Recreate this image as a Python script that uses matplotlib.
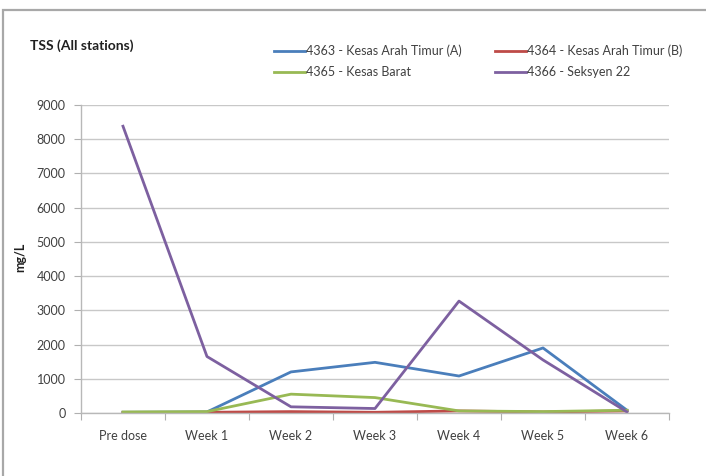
import matplotlib
matplotlib.use("Agg")
import matplotlib.pyplot as plt
from matplotlib.patches import Rectangle

plt.rcParams['font.family'] = ['Lato', 'DejaVu Sans']

semanas = ["Pre dose", "Week 1", "Week 2", "Week 3", "Week 4", "Week 5", "Week 6"]
st4363 = [20, 30, 1200, 1480, 1080, 1900, 80]
st4364 = [10, 20, 40, 20, 60, 30, 60]
st4365 = [30, 40, 550, 450, 60, 40, 80]
st4366 = [8380, 1650, 180, 130, 3270, 1550, 30]

nombres = ["4363 - Kesas Arah Timur (A)", "4364 - Kesas Arah Timur (B)",
           "4365 - Kesas Barat", "4366 - Seksyen 22"]
colores = ["#4a7ebb", "#be4b48", "#98b954", "#7d60a0"]
gris_txt = "#404040"

fig = plt.figure(figsize=(7.06, 4.76), dpi=100)
ax = fig.add_axes([0.1147, 0.1324, 0.8329, 0.647])

# marco gris del grafico
fig.patches.append(Rectangle((0.004, -0.05), 1.2, 1.029, transform=fig.transFigure,
                             fill=False, edgecolor="#a8a8a8", linewidth=1.6))

x = list(range(len(semanas)))
lineas = []
for datos, nom, col in zip([st4363, st4364, st4365, st4366], nombres, colores):
    l, = ax.plot(x, datos, color=col, linewidth=2.0, label=nom, solid_joinstyle="round")
    lineas.append(l)

ax.set_xlim(-0.5, len(semanas) - 0.5)
ax.set_ylim(0, 9000)
ax.set_yticks(range(0, 9001, 1000))
ax.set_xticks([i - 0.5 for i in range(len(semanas) + 1)])
ax.set_xticklabels([])
ax.set_xticks(x, minor=True)
ax.set_xticklabels(semanas, minor=True)
ax.tick_params(axis="x", which="minor", length=0, pad=12, labelsize=9, labelcolor=gris_txt)
ax.tick_params(axis="x", which="major", length=5, color="#b0b0b0", direction="out")
ax.tick_params(axis="y", length=5, color="#b0b0b0", labelsize=9, labelcolor=gris_txt, pad=6)

ax.grid(axis="y", color="#c8c8c8", linewidth=1.0)
ax.set_axisbelow(True)
for lado in ["top", "right"]:
    ax.spines[lado].set_visible(False)
for lado in ["left", "bottom"]:
    ax.spines[lado].set_color("#b8b8b8")
    ax.spines[lado].set_linewidth(1.0)

fig.text(20 / 706, 1 - 257 / 476, "mg/L", fontsize=9, fontweight="bold", color="#202020",
         rotation=90, ha="center", va="center")
fig.text(0.043, 0.905, "TSS (All stations)", fontsize=10, fontweight="bold", color="#202020",
         va="center", ha="left")

orden = [lineas[0], lineas[2], lineas[1], lineas[3]]
fig.legend(orden, [l.get_label() for l in orden], ncol=2, loc="upper left",
           bbox_to_anchor=(0.372, 0.93), frameon=False, fontsize=9,
           handlelength=2.5, handletextpad=0.1, columnspacing=2.6, labelspacing=0.75,
           labelcolor=gris_txt)

fig.savefig("out.png", dpi=100)
